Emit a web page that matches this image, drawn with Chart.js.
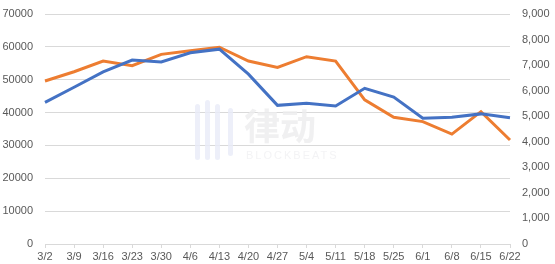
<!DOCTYPE html>
<html>
<head>
<meta charset="utf-8">
<script src="https://cdn.jsdelivr.net/npm/chart.js@4"></script>
<style>
html,body{margin:0;padding:0;background:#fff;}
#wrap{width:555px;height:264px;position:relative;}
</style>
</head>
<body>
<div id="wrap"><canvas id="c" width="555" height="264"></canvas></div>
<script>
const categories = ["3/2","3/9","3/16","3/23","3/30","4/6","4/13","4/20","4/27","5/4","5/11","5/18","5/25","6/1","6/8","6/15","6/22"];
const blueSeries = [43100,47700,52400,56000,55400,58200,59300,51700,42200,42800,42000,47400,44700,38300,38600,39600,38400];
const orangeSeries = [6380,6740,7160,6980,7420,7560,7700,7160,6910,7330,7160,5640,4960,4790,4300,5180,4070];
const leftTicks = [0,10000,20000,30000,40000,50000,60000,70000];
const rightTicks = [0,1000,2000,3000,4000,5000,6000,7000,8000,9000];

const watermark = {
  id: 'watermark',
  beforeDatasetsDraw(chart) {
    const ctx = chart.ctx;
    ctx.save();
    ctx.fillStyle = 'rgba(232,235,248,0.8)';
    const bars = [[195,104,5,56],[205,100,5,60],[215,104,5,56],[228,108,5,48]];
    bars.forEach(b => {
      ctx.beginPath();
      ctx.roundRect(b[0], b[1], b[2], b[3], 2.5);
      ctx.fill();
    });
    ctx.fillStyle = 'rgba(236,236,238,0.8)';
    ctx.font = 'bold 36px "Noto Sans CJK SC"';
    ctx.textBaseline = 'middle';
    ctx.fillText('律动', 244, 126);
    ctx.font = '11px "Liberation Sans"';
    ctx.fillStyle = 'rgba(240,240,242,0.8)';
    ctx.letterSpacing = '2px';
    ctx.fillText('BLOCKBEATS', 246, 156);
    ctx.restore();
  }
};

function noPad(s) { s.paddingTop = 0; s.paddingBottom = 0; s.paddingLeft = 0; s.paddingRight = 0; }

new Chart(document.getElementById('c'), {
  type: 'line',
  data: {
    labels: categories,
    datasets: [
      { data: blueSeries, yAxisID: 'y', borderColor: '#4472C4', backgroundColor: '#4472C4', borderWidth: 3, pointRadius: 0, tension: 0, fill: false },
      { data: orangeSeries, yAxisID: 'y1', borderColor: '#ED7D31', backgroundColor: '#ED7D31', borderWidth: 3, pointRadius: 0, tension: 0, fill: false }
    ]
  },
  options: {
    responsive: false,
    animation: false,
    devicePixelRatio: 1,
    layout: { padding: { top: 14, left: 0, right: 0, bottom: 0 } },
    plugins: { legend: { display: false }, tooltip: { enabled: false } },
    scales: {
      x: {
        offset: false,
        grid: { display: true, drawOnChartArea: false, drawTicks: true, tickLength: 4, color: '#d9d9d9' },
        border: { display: true, color: '#d9d9d9' },
        ticks: { color: '#595959', font: { family: 'Liberation Sans', size: 11 }, padding: 2, maxRotation: 0, autoSkip: false },
        afterFit(s) { s.height = 20; noPad(s); }
      },
      y: {
        position: 'left', min: 0, max: 70000,
        afterBuildTicks(s) { s.ticks = leftTicks.map(v => ({ value: v })); },
        grid: { color: '#d9d9d9', drawTicks: false },
        border: { display: false },
        ticks: { color: '#595959', font: { family: 'Liberation Sans', size: 11 }, padding: 12, callback: v => String(v) },
        afterFit(s) { s.width = 45; noPad(s); }
      },
      y1: {
        position: 'right', min: 0, max: 9000,
        afterBuildTicks(s) { s.ticks = rightTicks.map(v => ({ value: v })); },
        grid: { display: false, drawTicks: false },
        border: { display: false },
        ticks: { color: '#595959', font: { family: 'Liberation Sans', size: 11 }, padding: 12, callback: v => v.toLocaleString('en-US') },
        afterFit(s) { s.width = 45; noPad(s); }
      }
    }
  },
  plugins: [watermark]
});
</script>
</body>
</html>
